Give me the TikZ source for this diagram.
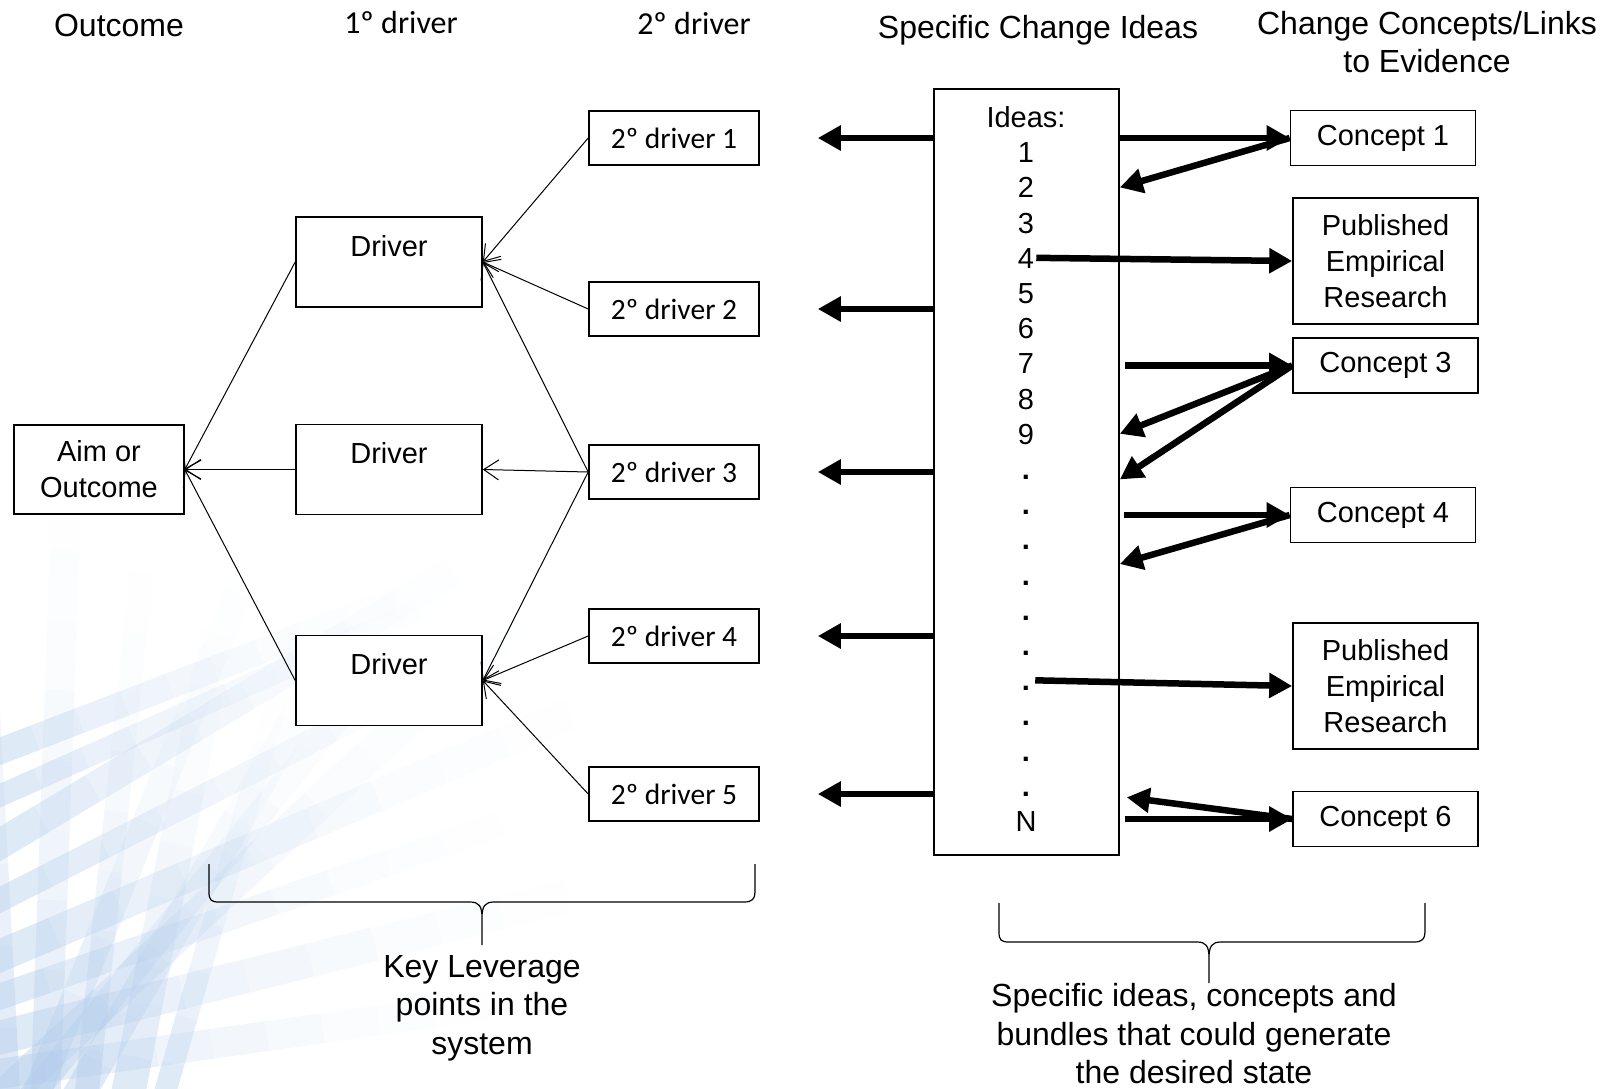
\documentclass[tikz,border=0pt]{standalone}
\usepackage{fontspec}
\setmainfont{Liberation Sans}
\newfontfamily\calibri{Carlito}
\usetikzlibrary{arrows.meta}

\definecolor{streakblue}{RGB}{178,204,235}
\newcommand\headfont{\fontsize{32}{37}\selectfont}
\newcommand\calhead{\calibri\fontsize{32}{37}\selectfont}
\newcommand\boxfont{\fontsize{29}{36}\selectfont}
\newcommand\calbox{\calibri\fontsize{29.5}{36}\selectfont}
\newcommand\notefont{\fontsize{32}{38.5}\selectfont}

\tikzset{
  box/.style={draw, fill=white, line width=1.6pt, inner sep=0pt, align=center, font=\boxfont},
  drvbox/.style={box, minimum width=186pt, text height=39pt, text depth=51pt},
  sdbox/.style={box, font=\calbox, minimum width=170pt, minimum height=54pt},
  cbox/.style={box, minimum width=185pt, minimum height=55pt},
  pubbox/.style={box, minimum width=185pt, minimum height=126pt},
  head/.style={inner sep=0pt, anchor=base, font=\headfont},
  item/.style={inner sep=0pt, font=\boxfont, text height=20.8pt, text depth=0pt},
  note/.style={inner sep=0pt, align=center, font=\notefont},
  thinarrow/.style={line width=1pt, -{Straight Barb[length=15pt, width=20pt]}},
  fatarrow/.style={line width=6.5pt, -{Triangle[length=23pt, width=24pt]}},
  bracket/.style={line width=1.2pt},
  streak/.style={draw=streakblue, line cap=butt}
}

\begin{document}
\begin{tikzpicture}[x=1pt, y=-1pt]
  \useasboundingbox (0,0) rectangle (1607,1088);

  % background streaks
  \foreach \x/\y/\a/\l/\w in {10/1110/93/820/22, 45/1110/88/700/30, 85/1110/84/600/24,
      125/1110/79/540/34, 160/1110/74/480/22, 30/1110/68/620/28, 70/1110/60/560/32,
      20/1110/51/660/26, 0/1100/43/720/34, -10/1075/8/560/30, -10/1040/14/660/34,
      -10/1000/19/600/26, -10/960/23/700/32, -10/905/27/640/24, -10/850/31/600/30,
      -10/800/24/520/22, -10/755/21/480/26}{
    \foreach \k in {0,...,9}{
      \pgfmathsetmacro\op{0.42*(1-\k/10)^2}
      \draw[streak, line width=\w, draw opacity=\op]
        ([shift={(-\a:{\k*\l/10})}]\x,\y) -- ++(-\a:{\l/10});
    }
  }

  % headers
  \node[head] (hOut) at (119,36.5) {Outcome};
  \node[head, font=\calhead] (hDrv1) at (401,33) {1º driver};
  \node[head, font=\calhead] (hDrv2) at (694,34) {2º driver};
  \node[head] (hIdeas) at (1038,38) {Specific Change Ideas};
  \node[head] (hConc) at (1427,34) {Change Concepts/Links};
  \node[head] (hConcB) at (1427,72.5) {to Evidence};

  % outcome and drivers
  \node[box, minimum width=170pt, minimum height=89pt] (aim) at (99,469.5) {Aim or\\Outcome};
  \node[drvbox] (drv1) at (389,262) {Driver};
  \node[drvbox] (drv2) at (389,469.5) {Driver};
  \node[drvbox] (drv3) at (389,680.5) {Driver};

  \node[sdbox] (sd1) at (674,138) {2º driver 1};
  \node[sdbox] (sd2) at (674,309) {2º driver 2};
  \node[sdbox] (sd3) at (674,472) {2º driver 3};
  \node[sdbox] (sd4) at (674,636) {2º driver 4};
  \node[sdbox] (sd5) at (674,794) {2º driver 5};

  % ideas column
  \node[box, minimum width=185pt, minimum height=766pt] (ideas) at (1026.5,472) {};
  \foreach \t [count=\i] in {Ideas:,1,2,3,4,5,6,7,8,9,\textbf{.},\textbf{.},\textbf{.},\textbf{.},
      \textbf{.},\textbf{.},\textbf{.},\textbf{.},\textbf{.},\textbf{.},N}
    \node[item] (idea\i) at (1026,{117+35.2*(\i-1)}) {\t};

  % concepts
  \node[cbox] (c1) at (1383,138) {Concept 1};
  \node[pubbox] (pub1) at (1385.5,261) {Published\\Empirical\\Research};
  \node[cbox] (c3) at (1385.5,365.5) {Concept 3};
  \node[cbox] (c4) at (1383,515) {Concept 4};
  \node[pubbox] (pub2) at (1385.5,686) {Published\\Empirical\\Research};
  \node[cbox] (c6) at (1385.5,819) {Concept 6};

  % thin connectors
  \foreach \i in {1,2,3}
    \draw[thinarrow] (drv\i.west) -- (aim.east);
  \foreach \s/\d in {1/1,2/1,3/1,3/2,3/3,4/3,5/3}
    \draw[thinarrow] (sd\s.west) -- (drv\d.east);

  % thick arrows
  \foreach \i in {1,...,5}
    \draw[fatarrow] (ideas.west |- sd\i) -- ([xshift=58pt]sd\i.east);
  \draw[fatarrow] (ideas.east |- c1.west) -- (c1.west);
  \draw[fatarrow] (c1.west) -- (ideas.east |- idea3);
  \draw[fatarrow, shorten <=2pt] (idea5.east) -- (pub1.west);
  \draw[fatarrow, shorten <=5pt] (ideas.east |- c3.west) -- (c3.west);
  \draw[fatarrow] (c3.west) -- (ideas.east |- idea10);
  \draw[fatarrow] (c3.west) -- (ideas.east |- idea11.base);
  \draw[fatarrow, shorten <=4pt] (ideas.east |- c4.west) -- (c4.west);
  \draw[fatarrow] (c4.west) -- (ideas.east |- idea14.north);
  \draw[fatarrow, shorten <=5pt] (idea17.east) -- (pub2.west);
  \draw[fatarrow, shorten >=7pt] (c6.west) -- (ideas.east |- idea20.south);
  \draw[fatarrow, shorten <=5pt] (ideas.east |- c6.west) -- (c6.west);

  % brackets
  \draw[bracket] (209,864) -- (209,892) .. controls (209,900) and (211,902) .. (219,902)
    -- (470,902) .. controls (479,902) and (482,906) .. (482,918) -- (482,945)
    -- (482,918) .. controls (482,906) and (485,902) .. (494,902)
    -- (744,902) .. controls (752,902) and (755,899) .. (755,892) -- (755,864);
  \draw[bracket] (999,903) -- (999,932) .. controls (999,940) and (1001,942) .. (1009,942)
    -- (1197,942) .. controls (1206,942) and (1209,946) .. (1209,958) -- (1209,983)
    -- (1209,958) .. controls (1209,946) and (1212,942) .. (1221,942)
    -- (1414,942) .. controls (1422,942) and (1425,939) .. (1425,932) -- (1425,903);
  \node[note] (keyNote) at (482,1008) {Key Leverage\\points in the\\system};
  \node[note] (ideaNote) at (1194,1034) {Specific ideas, concepts and\\bundles that could generate\\the desired state};
\end{tikzpicture}
\end{document}
